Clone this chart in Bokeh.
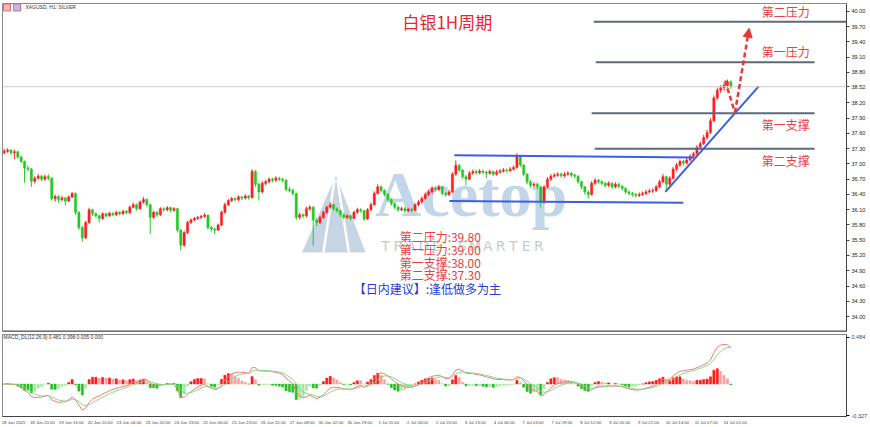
import numpy as np
import pandas as pd
from bokeh.plotting import figure
from bokeh.layouts import column
from bokeh.models import (ColumnDataSource, Range1d, FixedTicker, PrintfTickFormatter,
                          Span, Arrow, NormalHead)
from bokeh.core.properties import value
from bokeh.embed import file_html
from bokeh.resources import INLINE

# ---------------------------------------------------------------- data
SYMBOL = "XAGUSD, H1:  SILVER"
TITLE = "白银1H周期"
BAR_HOURS = 2          # each candle below covers two hourly bars
LABEL_STEP = 17        # hourly bars between two time labels

time_labels = ["18 Jun 2025", "18 Jun 20:00", "19 Jun 13:00", "20 Jun 10:00", "23 Jun 04:00",
               "23 Jun 20:00", "24 Jun 13:00", "25 Jun 06:00", "25 Jun 23:00", "26 Jun 15:00",
               "27 Jun 08:00", "30 Jun 02:00", "30 Jun 19:00", "1 Jul 11:00", "2 Jul 04:00",
               "2 Jul 20:00", "3 Jul 13:00", "4 Jul 06:00", "7 Jul 03:00", "7 Jul 19:00",
               "8 Jul 12:00", "9 Jul 05:00", "9 Jul 21:00", "10 Jul 14:00", "11 Jul 07:00",
               "14 Jul 01:00"]

first_open = 37.22
close_prices = [
    37.25, 37.27, 37.22, 37.24, 37.14, 37.05, 36.92, 36.90, 36.66, 36.72,
    36.76, 36.70, 36.75, 36.72, 36.32, 36.36, 36.30, 36.33, 36.27, 36.35,
    36.42, 36.05, 35.75, 35.55, 35.85, 36.10, 36.02, 35.98, 35.93, 36.02,
    35.98, 36.03, 36.00, 36.05, 36.02, 36.07, 36.04, 36.15, 36.20, 36.12,
    36.25, 36.30, 36.20, 35.95, 36.05, 36.00, 36.12, 36.10, 36.14, 36.09,
    36.12, 35.70, 35.40, 35.65, 35.85, 35.90, 35.93, 35.95, 35.97, 35.99,
    35.75, 35.72, 35.70, 35.80, 36.05, 36.20, 36.28, 36.32, 36.30, 36.35,
    36.33, 36.37, 36.34, 36.85, 36.60, 36.45, 36.62, 36.65, 36.70, 36.68,
    36.72, 36.70, 36.68, 36.50, 36.48, 36.42, 35.95, 36.00, 35.98, 36.12,
    36.15, 35.90, 35.85, 35.95, 36.05, 36.15, 36.20, 36.12, 36.08, 36.00,
    35.95, 35.98, 35.93, 36.05, 36.10, 36.08, 35.92, 36.10, 36.20, 36.42,
    36.55, 36.48, 36.40, 36.30, 36.22, 36.15, 36.10, 36.12, 36.08, 36.11,
    36.09, 36.20, 36.25, 36.32, 36.40, 36.45, 36.52, 36.50, 36.55, 36.42,
    36.40, 36.45, 36.80, 36.97, 36.88, 36.75, 36.70, 36.82, 36.85, 36.83,
    36.86, 36.84, 36.82, 36.85, 36.80, 36.84, 36.86, 36.88, 36.87, 36.90,
    36.93, 37.15, 36.98, 36.80, 36.65, 36.58, 36.60, 36.55, 36.25, 36.55,
    36.70, 36.76, 36.78, 36.80, 36.77, 36.80, 36.82, 36.78, 36.76, 36.65,
    36.55, 36.45, 36.40, 36.62, 36.68, 36.65, 36.62, 36.58, 36.62, 36.55,
    36.60, 36.56, 36.52, 36.45, 36.42, 36.40, 36.38, 36.40, 36.42, 36.45,
    36.47, 36.48, 36.55, 36.65, 36.75, 36.60, 36.72, 36.90, 36.98, 37.05,
    37.02, 37.08, 37.15, 37.20, 37.33, 37.40, 37.52, 37.62, 37.85, 38.30,
    38.45, 38.50, 38.55, 38.62, 38.52]
high_prices = [
    37.30, 37.31, 37.29, 37.28, 37.26, 37.16, 37.07, 36.97, 36.92, 36.76,
    36.80, 36.79, 36.79, 36.80, 36.74, 36.40, 36.38, 36.37, 36.36, 36.38,
    36.45, 36.44, 36.07, 35.78, 35.88, 36.14, 36.12, 36.05, 36.00, 36.05,
    36.04, 36.06, 36.05, 36.08, 36.07, 36.10, 36.09, 36.18, 36.24, 36.22,
    36.28, 36.35, 36.32, 36.22, 36.08, 36.07, 36.15, 36.15, 36.17, 36.16,
    36.15, 36.14, 35.72, 35.68, 35.88, 35.93, 35.96, 35.98, 36.00, 36.03,
    36.01, 35.78, 35.75, 35.83, 36.08, 36.24, 36.31, 36.35, 36.34, 36.38,
    36.37, 36.40, 36.39, 36.90, 36.88, 36.63, 36.66, 36.69, 36.74, 36.73,
    36.76, 36.75, 36.73, 36.70, 36.55, 36.52, 36.44, 36.04, 36.03, 36.16,
    36.19, 36.17, 35.93, 35.98, 36.08, 36.18, 36.25, 36.22, 36.15, 36.10,
    36.03, 36.01, 36.00, 36.08, 36.14, 36.13, 36.10, 36.13, 36.24, 36.46,
    36.60, 36.58, 36.50, 36.43, 36.33, 36.25, 36.18, 36.16, 36.15, 36.14,
    36.14, 36.23, 36.29, 36.36, 36.44, 36.49, 36.56, 36.55, 36.59, 36.57,
    36.45, 36.49, 36.84, 37.07, 37.00, 36.90, 36.78, 36.86, 36.89, 36.88,
    36.90, 36.89, 36.87, 36.89, 36.87, 36.88, 36.90, 36.92, 36.91, 36.94,
    36.97, 37.21, 37.17, 37.00, 36.82, 36.68, 36.64, 36.63, 36.57, 36.58,
    36.74, 36.80, 36.82, 36.84, 36.83, 36.84, 36.86, 36.84, 36.81, 36.78,
    36.67, 36.57, 36.48, 36.66, 36.72, 36.71, 36.68, 36.65, 36.66, 36.64,
    36.64, 36.63, 36.59, 36.54, 36.48, 36.45, 36.43, 36.44, 36.46, 36.49,
    36.51, 36.52, 36.59, 36.69, 36.80, 36.77, 36.76, 36.94, 37.02, 37.09,
    37.08, 37.12, 37.19, 37.24, 37.37, 37.44, 37.57, 37.67, 37.90, 38.35,
    38.50, 38.55, 38.59, 38.66, 38.64]
low_prices = [
    37.19, 37.22, 37.18, 37.10, 37.10, 37.02, 36.63, 36.85, 36.55, 36.62,
    36.69, 36.66, 36.67, 36.68, 36.28, 36.26, 36.24, 36.27, 36.18, 36.25,
    36.33, 36.00, 35.70, 35.47, 35.52, 35.82, 35.98, 35.94, 35.85, 35.90,
    35.95, 35.96, 35.97, 35.98, 35.99, 36.00, 36.01, 36.02, 36.13, 36.08,
    36.10, 36.22, 36.16, 35.62, 35.92, 35.96, 35.98, 36.06, 36.07, 36.05,
    36.06, 35.65, 35.30, 35.37, 35.62, 35.82, 35.87, 35.90, 35.92, 35.94,
    35.71, 35.67, 35.62, 35.68, 35.78, 36.02, 36.17, 36.25, 36.26, 36.27,
    36.29, 36.30, 36.30, 36.32, 36.55, 36.28, 36.42, 36.58, 36.62, 36.64,
    36.65, 36.66, 36.64, 36.46, 36.44, 36.38, 35.90, 35.91, 35.93, 35.95,
    36.08, 35.39, 35.78, 35.82, 35.92, 36.02, 36.12, 36.08, 36.04, 35.96,
    35.91, 35.92, 35.89, 35.91, 36.02, 36.04, 35.88, 35.90, 36.07, 36.18,
    36.40, 36.44, 36.36, 36.26, 36.18, 36.11, 36.06, 36.07, 36.04, 36.05,
    36.05, 36.07, 36.17, 36.22, 36.30, 36.37, 36.42, 36.46, 36.47, 36.38,
    36.36, 36.37, 36.43, 36.77, 36.84, 36.71, 36.58, 36.68, 36.79, 36.79,
    36.80, 36.80, 36.72, 36.79, 36.76, 36.77, 36.81, 36.83, 36.83, 36.84,
    36.87, 36.91, 36.94, 36.76, 36.60, 36.53, 36.54, 36.50, 36.15, 36.22,
    36.52, 36.67, 36.73, 36.75, 36.73, 36.74, 36.77, 36.74, 36.72, 36.61,
    36.50, 36.40, 36.32, 36.38, 36.59, 36.61, 36.58, 36.54, 36.55, 36.51,
    36.52, 36.52, 36.48, 36.41, 36.38, 36.36, 36.34, 36.35, 36.37, 36.39,
    36.42, 36.43, 36.45, 36.52, 36.62, 36.46, 36.57, 36.69, 36.86, 36.94,
    36.97, 36.99, 37.05, 37.11, 37.17, 37.29, 37.37, 37.48, 37.59, 37.82,
    38.26, 38.40, 38.44, 38.50, 38.48]
last_price = 38.52

# support / resistance levels and the note block
level_names = ["第二压力", "第一压力", "第一支撑", "第二支撑"]
level_values = [39.80, 39.00, 38.00, 37.30]
level_start = [348.2, 349.4, 347.0, 348.8]      # hour index where each level line starts
level_end = [497.1, 478.3, 478.3, 478.3]
advice_text = "【日内建议】:逢低做多为主"

# hand-drawn trend lines: upper channel, lower channel, rising support
trend_x0 = [266.1, 263.2, 390.4]
trend_y0 = [37.17, 36.27, 36.45]
trend_x1 = [407.4, 401.0, 445.5]
trend_y1 = [37.13, 36.24, 38.53]

# projected path (pull-back then push higher)
path_x = [425.6, 431.4, 439.8]
path_y = [38.64, 38.01, 39.67]

# price scale: 0.30 steps, the step next to the last price replaced by the last price
price_ticks = [round(34.0 + 0.3 * k, 2) for k in range(21)]
price_ticks = [t for t in price_ticks if abs(t - last_price) > 0.15] + [last_price]
macd_ticks = [-0.327, 0.484]
macd_header = "MACD_DL(12,26,9) 0.481 0.398 0.005 0.000"

# ---------------------------------------------------------------- derived series
close = np.array(close_prices)
open_ = np.array([first_open] + close_prices[:-1])
high = np.array(high_prices)
low = np.array(low_prices)
n = len(close)
xs = np.arange(n) * BAR_HOURS + BAR_HOURS / 2

UP, DOWN, FLAT = "#ff1f1f", "#25c825", "#555555"
colors = np.where(close > open_, UP, np.where(close < open_, DOWN, FLAT))
candles = ColumnDataSource(dict(x=xs, high=high, low=low,
                                top=np.maximum(open_, close), bottom=np.minimum(open_, close),
                                color=colors))


def ema(series, span):
    return pd.Series(series).ewm(span=span, adjust=False).mean().to_numpy()


# MACD (12, 26, 9) on hourly bars -> spans in two-hour bars
dif = ema(close, 12 / BAR_HOURS) - ema(close, 26 / BAR_HOURS)
dea = ema(dif, 9 / BAR_HOURS)
hist = 2 * (dif - dea)
prev = np.concatenate([[hist[0]], hist[:-1]])
hist_colors = np.where(hist >= 0,
                       np.where(hist >= prev, "#ff1a1a", "#f6a3a3"),
                       np.where(hist <= prev, "#22c022", "#a6e6a6"))
macd_src = ColumnDataSource(dict(x=xs, hist=hist, color=hist_colors, dif=dif, dea=dea))

# ---------------------------------------------------------------- layout constants
X_END = 497.1
x_rng = Range1d(0, X_END)
CJK = value("Noto Sans CJK SC")

# ---------------------------------------------------------------- price panel
p = figure(width=870, height=332, x_range=x_rng, y_range=Range1d(33.705, 40.157),
           output_backend="svg", toolbar_location=None,
           x_axis_location=None, y_axis_location="right",
           min_border_left=2, min_border_right=20, min_border_top=3, min_border_bottom=1)
p.grid.visible = False
p.outline_line_color = "#8a8a8a"
p.background_fill_color = "white"
p.border_fill_color = "white"

ax = p.yaxis[0]
ax.ticker = FixedTicker(ticks=price_ticks)
ax.formatter = PrintfTickFormatter(format="%.2f")
ax.major_label_text_font = "Liberation Sans"
ax.major_label_text_font_size = "5.5px"
ax.major_label_text_color = "#222222"
ax.major_tick_out = 3
ax.major_tick_in = 0
ax.minor_tick_line_color = None
ax.major_label_standoff = 2
ax.axis_line_color = "#444444"
ax.major_tick_line_color = "#444444"

# watermark: logo, word mark and slogan
logo_x = [196.4, 176.4, 213.9]
logo_y = [36.774, 35.259, 35.259]
p.patch(logo_x, logo_y, fill_color="#b9c9dc", fill_alpha=0.8, line_color=None)
p.segment(x0=[195.6, 197.2], y0=[36.70, 36.70], x1=[189.0, 204.0], y1=[35.26, 35.26],
          line_color="white", line_width=2.5)
p.text(x=[219.5], y=[36.40], text=["Acetop"], text_font=value("Liberation Serif"),
       text_font_size="64px", text_font_style="bold", text_color="#bcd0e6", text_alpha=0.9,
       text_baseline="middle", text_align="left")
slogan = "TRADE SMARTER"
slogan_x = 225.6 + 7.53 * np.arange(len(slogan))
keep = [i for i, ch in enumerate(slogan) if ch != " "]
p.text(x=slogan_x[keep], y=[35.38] * len(keep), text=[slogan[i] for i in keep],
       text_font=value("DejaVu Sans"), text_font_size="14px", text_color="#c6cbd1",
       text_align="center", text_baseline="middle")

# current price line
p.add_layout(Span(location=last_price, dimension="width", line_color="#cccccc", line_width=1))

# candles
p.segment(x0="x", y0="low", x1="x", y1="high", color="color", line_width=1, source=candles)
p.vbar(x="x", width=1.3, top="top", bottom="bottom", fill_color="color", line_color="color",
       line_width=0.5, source=candles)

# support / resistance levels
p.segment(x0=level_start, y0=level_values, x1=level_end, y1=level_values,
          line_color="#5d6a78", line_width=2)
p.text(x=[447.2, 447.2], y=level_values[:2], text=level_names[:2], text_font=CJK,
       text_font_size="12px", text_color="#e8403f", text_baseline="bottom", y_offset=-2)
p.text(x=[447.2, 447.2], y=level_values[2:], text=level_names[2:], text_font=CJK,
       text_font_size="12px", text_color="#e8403f", text_baseline="top", y_offset=3)

# trend lines
p.segment(x0=trend_x0, y0=trend_y0, x1=trend_x1, y1=trend_y1, line_color="#3a5ee6", line_width=2)

# projected move
p.line(path_x[:2], path_y[:2], line_color="#e53935", line_width=2.5, line_dash="5 3")
p.add_layout(Arrow(x_start=path_x[1], y_start=path_y[1], x_end=path_x[2], y_end=path_y[2],
                   line_color="#e53935", line_width=2.5, line_dash="5 3",
                   end=NormalHead(size=9, fill_color="#e53935", line_color="#e53935")))

# title and symbol
p.text(x=[262.0], y=[39.80], text=[TITLE], text_font=CJK, text_font_size="17px",
       text_color="#e8262b", text_align="center", text_baseline="middle")
p.rect(x=[2.6, 8.5], y=[40.079, 40.079], width=7, height=7, width_units="screen",
       height_units="screen", fill_color=["#f5b7b7", "#a9c4f0"], line_color="#e06a6a")
p.text(x=[13.5], y=[40.079], text=[SYMBOL], text_font=value("Liberation Sans"),
       text_font_size="5px", text_color="#333333", text_baseline="middle")

# note block
summary = [f"{name}:{v:.2f}" for name, v in zip(level_names, level_values)]
p.text(x=[233.9] * 4, y=[35.574, 35.318, 35.062, 34.826], text=summary, text_font=CJK,
       text_font_size="12px", text_color="#e8403f", text_baseline="middle")
p.text(x=[206.9], y=[34.55], text=[advice_text], text_font=CJK, text_font_size="12px",
       text_color="#1f3ad6", text_baseline="middle")

p.add_layout(Span(location=33.705, dimension="width", line_color="#555555", line_width=2))

# ---------------------------------------------------------------- MACD panel
m = figure(width=870, height=95, x_range=x_rng, y_range=Range1d(-0.337, 0.515),
           output_backend="svg", toolbar_location=None,
           x_axis_location="below", y_axis_location="right",
           min_border_left=2, min_border_right=20, min_border_top=2, min_border_bottom=11)
m.grid.visible = False
m.outline_line_color = "#8a8a8a"
m.background_fill_color = "white"
m.border_fill_color = "white"

m.vbar(x="x", width=1.3, top="hist", bottom=0, fill_color="color", line_color="color",
       line_width=0.5, source=macd_src)
m.line("x", "dif", line_color="#f07878", line_width=1, source=macd_src)
m.line("x", "dea", line_color="#84d884", line_width=1, source=macd_src)
m.text(x=[0.6], y=[0.484], text=[macd_header], text_font=value("Liberation Sans"),
       text_font_size="5px", text_color="#333333", text_baseline="middle")

my = m.yaxis[0]
my.ticker = FixedTicker(ticks=macd_ticks)
my.formatter = PrintfTickFormatter(format="%.3f")
my.major_label_text_font = "Liberation Sans"
my.major_label_text_font_size = "5.5px"
my.major_tick_out = 3
my.major_tick_in = 0
my.minor_tick_line_color = None
my.major_label_standoff = 2
my.axis_line_color = "#444444"

label_pos = [LABEL_STEP * k + 6.5 for k in range(len(time_labels))]
mx = m.xaxis[0]
mx.ticker = FixedTicker(ticks=label_pos)
mx.major_label_overrides = {pos: lab for pos, lab in zip(label_pos, time_labels)}
mx.major_label_text_font = "Liberation Sans"
mx.major_label_text_font_size = "4.3px"
mx.major_tick_out = 0
mx.major_tick_in = 0
mx.minor_tick_line_color = None
mx.major_label_standoff = 3
mx.axis_line_color = "#444444"

layout = column(p, m, spacing=0)
open("out.html", "w").write(file_html(layout, INLINE))
